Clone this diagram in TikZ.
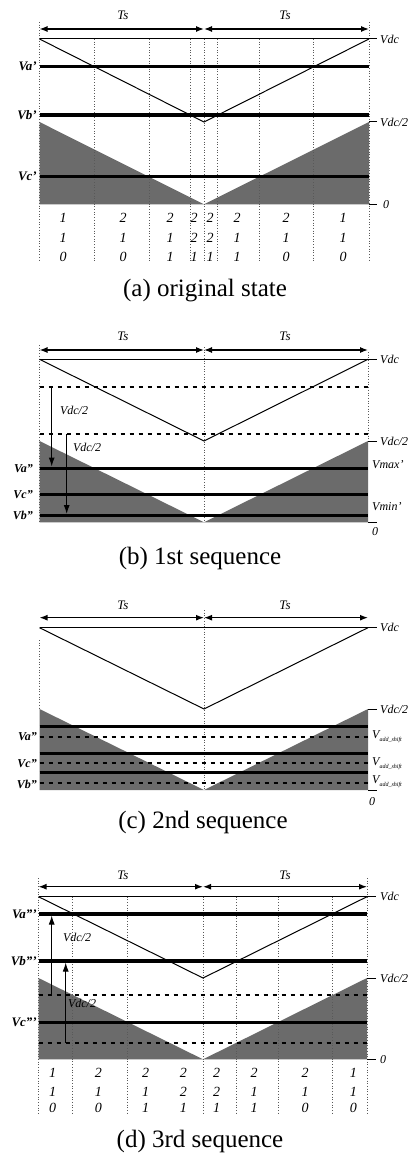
\documentclass[tikz,border=0pt]{standalone}
\usepackage{fontspec}
\setmainfont{Liberation Serif}
\usetikzlibrary{arrows.meta}
\tikzset{
  carrier/.style={line width=1pt},
  vline/.style={line width=3.5pt},
  vdot/.style={line width=0.7pt, dotted, black!65},
  hdash/.style={line width=1.8pt, dash pattern=on 4pt off 5pt},
  shadefill/.style={fill=black!58},
  tsarrow/.style={line width=1.3pt, {Latex[length=8pt,width=6pt]}-{Latex[length=8pt,width=6pt]}},
  varrow/.style={line width=1pt, -{Latex[length=9pt,width=6pt]}},
  rlbl/.style={anchor=west, inner sep=0pt, font=\itshape\fontsize{12}{12}\selectfont},
  llbl/.style={anchor=east, inner sep=0pt, font=\bfseries\itshape\fontsize{13}{13}\selectfont},
  slbl/.style={anchor=east, inner sep=0pt, font=\bfseries\itshape\fontsize{12}{12}\selectfont},
  tslbl/.style={inner sep=0pt, font=\itshape\fontsize{13}{13}\selectfont},
  num/.style={inner sep=0pt, font=\itshape\fontsize{14}{14}\selectfont},
  midlbl/.style={inner sep=0pt, font=\itshape\fontsize{12}{12}\selectfont},
  captext/.style={inner sep=0pt, font=\fontsize{25}{25}\selectfont},
}
\newcommand{\Vadd}{\textit{V}\raisebox{-3pt}{\fontsize{6}{6}\selectfont\itshape add\_shift}}
\begin{document}
\begin{tikzpicture}[x=1pt,y=-1pt]
\fill[white] (0,0) rectangle (411,1155);
\useasboundingbox (0,0) rectangle (411,1155);

% ======================= (a) =======================
\fill[shadefill] (39.5,122) -- (204,204.3) -- (369,122) -- (369,204.3) -- (39.5,204.3) -- cycle;
\foreach \x in {94.4,149,190.5,204,217.5,259,313.5} \draw[vdot] (\x,39) -- (\x,262);
\draw[vdot] (39.5,22) -- (39.5,262);
\draw[vdot] (369,22) -- (369,262);
\draw[carrier] (39.5,39) -- (377,39);
\draw[carrier] (39.5,39) -- (204,122) -- (369,39);
\draw[vline] (39.5,66.7) -- (369,66.7);
\draw[vline] (39.5,115) -- (369,115);
\draw[vline] (39.5,176.7) -- (369,176.7);
\draw[carrier] (377,122) -- (369,122);
\draw[carrier] (369,204.3) -- (377,204.3);
\coordinate (aL) at (39.5,29);
\coordinate (aC) at (204,29);
\coordinate (aR) at (369,29);
\draw[tsarrow] (aL) -- (aC);
\draw[tsarrow] (aC) -- (aR);
\node[tslbl] (aTs1) at (123,15.7) {Ts};
\node[tslbl] (aTs2) at (285,15.7) {Ts};
\node[rlbl] (aVdc) at (380,39) {Vdc};
\node[rlbl] (aVh) at (380,122) {Vdc/2};
\node[rlbl] (a0) at (383,204.3) {0};
\node[llbl] (aVa) at (37,66.7) {Va'};
\node[llbl] (aVb) at (37,115) {Vb'};
\node[llbl] (aVc) at (37,176.7) {Vc'};
\foreach \x/\p/\q/\r [count=\i] in {63/1/1/0,123/2/1/0,170/2/1/1,194/2/2/1,210/2/2/1,237/2/1/1,286/2/1/0,343/1/1/0}{
  \node[num] (an1\i) at (\x,218) {\p};
  \node[num] (an2\i) at (\x,238) {\q};
  \node[num] (an3\i) at (\x,257) {\r};
}
\node[captext] (acap) at (205,291) {(a) original state};

% ======================= (b) =======================
\fill[shadefill] (39.5,441) -- (204,522.3) -- (368,441) -- (368,522.3) -- (39.5,522.3) -- cycle;
\draw[vdot] (39.5,345) -- (39.5,522.3);
\draw[vdot] (204,347) -- (204,522.3);
\draw[vdot] (368,352) -- (368,441);
\draw[carrier] (39.5,359.3) -- (377,359.3);
\draw[carrier] (39.5,359.3) -- (204,441) -- (368,359.3);
\draw[hdash] (39.5,386.7) -- (368,386.7);
\draw[hdash] (39.5,434) -- (368,434);
\draw[vline] (39.5,468.3) -- (368,468.3);
\draw[vline] (39.5,494.3) -- (368,494.3);
\draw[vline] (39.5,515.7) -- (368,515.7);
\draw[carrier] (377,441) -- (368,441);
\draw[carrier] (368,522.3) -- (377,522.3);
\coordinate (bL) at (39.5,350);
\coordinate (bC) at (204,350);
\coordinate (bR) at (368,350);
\draw[tsarrow] (bL) -- (bC);
\draw[tsarrow] (bC) -- (bR);
\coordinate (bA1s) at (51.7,386.7);
\coordinate (bA1e) at (51.7,466.5);
\coordinate (bA2s) at (66.7,434);
\coordinate (bA2e) at (66.7,514);
\draw[varrow] (bA1s) -- (bA1e);
\draw[varrow] (bA2s) -- (bA2e);
\node[midlbl] (bh1) at (74,410) {Vdc/2};
\node[midlbl] (bh2) at (87,447) {Vdc/2};
\node[tslbl] (bTs1) at (123,336.7) {Ts};
\node[tslbl] (bTs2) at (285,336.7) {Ts};
\node[rlbl] (bVdc) at (380,359.3) {Vdc};
\node[rlbl] (bVh) at (380,441) {Vdc/2};
\node[rlbl] (bVmax) at (372,465) {Vmax'};
\node[rlbl] (bVmin) at (372,507) {Vmin'};
\node[rlbl] (b0) at (372,532) {0};
\node[slbl] (bVa) at (33,468.3) {Va''};
\node[slbl] (bVc) at (33,494.3) {Vc''};
\node[slbl] (bVb) at (33,515.7) {Vb''};
\node[captext] (bcap) at (200,558) {(b) 1st sequence};

% ======================= (c) =======================
\fill[shadefill] (39.5,709) -- (204,790) -- (368,709) -- (368,790) -- (39.5,790) -- cycle;
\draw[vdot] (39.5,640) -- (39.5,709);
\draw[vdot] (204,610) -- (204,790);
\draw[carrier] (39.5,627.7) -- (377,627.7);
\draw[carrier] (39.5,627.7) -- (204,709) -- (368,627.7);
\draw[vline] (39.5,726.7) -- (368,726.7);
\draw[hdash] (39.5,736.7) -- (368,736.7);
\draw[vline] (39.5,753.3) -- (368,753.3);
\draw[hdash] (39.5,763.3) -- (368,763.3);
\draw[vline] (39.5,772.3) -- (368,772.3);
\draw[hdash] (39.5,783) -- (368,783);
\draw[carrier] (377,709) -- (368,709);
\draw[carrier] (368,790) -- (377,790);
\coordinate (cL) at (39.5,617.7);
\coordinate (cC) at (204,617.7);
\coordinate (cR) at (368,617.7);
\draw[tsarrow] (cL) -- (cC);
\draw[tsarrow] (cC) -- (cR);
\node[tslbl] (cTs1) at (123,605) {Ts};
\node[tslbl] (cTs2) at (285,605) {Ts};
\node[rlbl] (cVdc) at (380,627.7) {Vdc};
\node[rlbl] (cVh) at (380,709) {Vdc/2};
\node[rlbl] (cS1) at (372,736.7) {\Vadd};
\node[rlbl] (cS2) at (372,763.3) {\Vadd};
\node[rlbl] (cS3) at (372,782) {\Vadd};
\node[rlbl] (c0) at (369,801.7) {0};
\node[slbl] (cVa) at (37,736.7) {Va''};
\node[slbl] (cVc) at (37,763.3) {Vc''};
\node[slbl] (cVb) at (37,784) {Vb''};
\node[captext] (ccap) at (203,822) {(c) 2nd sequence};

% ======================= (d) =======================
\fill[shadefill] (38.5,978) -- (203,1059.3) -- (367,978) -- (367,1059.3) -- (38.5,1059.3) -- cycle;
\foreach \x in {72,127,203,236.5,278,332.5} \draw[vdot] (\x,896.7) -- (\x,1113);
\draw[vdot] (38.5,878) -- (38.5,1113);
\draw[vdot] (367,878) -- (367,1113);
\draw[carrier] (38.5,896.7) -- (376,896.7);
\draw[carrier] (38.5,896.7) -- (203,978) -- (367,896.7);
\draw[vline] (38.5,914) -- (367,914);
\draw[vline] (38.5,961) -- (367,961);
\draw[hdash] (38.5,995) -- (367,995);
\draw[vline] (38.5,1022.3) -- (367,1022.3);
\draw[hdash] (38.5,1042.7) -- (367,1042.7);
\draw[carrier] (376,978) -- (367,978);
\draw[carrier] (367,1059.3) -- (376,1059.3);
\coordinate (dL) at (38.5,886.7);
\coordinate (dC) at (203,886.7);
\coordinate (dR) at (367,886.7);
\draw[tsarrow] (dL) -- (dC);
\draw[tsarrow] (dC) -- (dR);
\coordinate (dA1s) at (51.7,995);
\coordinate (dA1e) at (51.7,915.5);
\coordinate (dA2s) at (65.7,1042.7);
\coordinate (dA2e) at (65.7,962.5);
\draw[varrow] (dA1s) -- (dA1e);
\draw[varrow] (dA2s) -- (dA2e);
\node[midlbl] (dh1) at (77,937.3) {Vdc/2};
\node[midlbl] (dh2) at (82,1003.3) {Vdc/2};
\node[tslbl] (dTs1) at (123,875) {Ts};
\node[tslbl] (dTs2) at (285,875) {Ts};
\node[rlbl] (dVdc) at (380,896.7) {Vdc};
\node[rlbl] (dVh) at (380,978) {Vdc/2};
\node[rlbl] (d0) at (380,1059.3) {0};
\node[llbl] (dVa) at (37,914) {Va'''};
\node[llbl] (dVb) at (37,961) {Vb'''};
\node[llbl] (dVc) at (37,1022.3) {Vc'''};
\foreach \x/\p/\q/\r [count=\i] in {52.7/1/1/0,98.3/2/1/0,145.7/2/1/1,183.3/2/2/1,216.7/2/2/1,254/2/1/1,305/2/1/0,353.3/1/1/0}{
  \node[num] (dn1\i) at (\x,1073.3) {\p};
  \node[num] (dn2\i) at (\x,1091.7) {\q};
  \node[num] (dn3\i) at (\x,1108.3) {\r};
}
\node[captext] (dcap) at (200,1141.5) {(d) 3rd sequence};
\end{tikzpicture}
\end{document}
